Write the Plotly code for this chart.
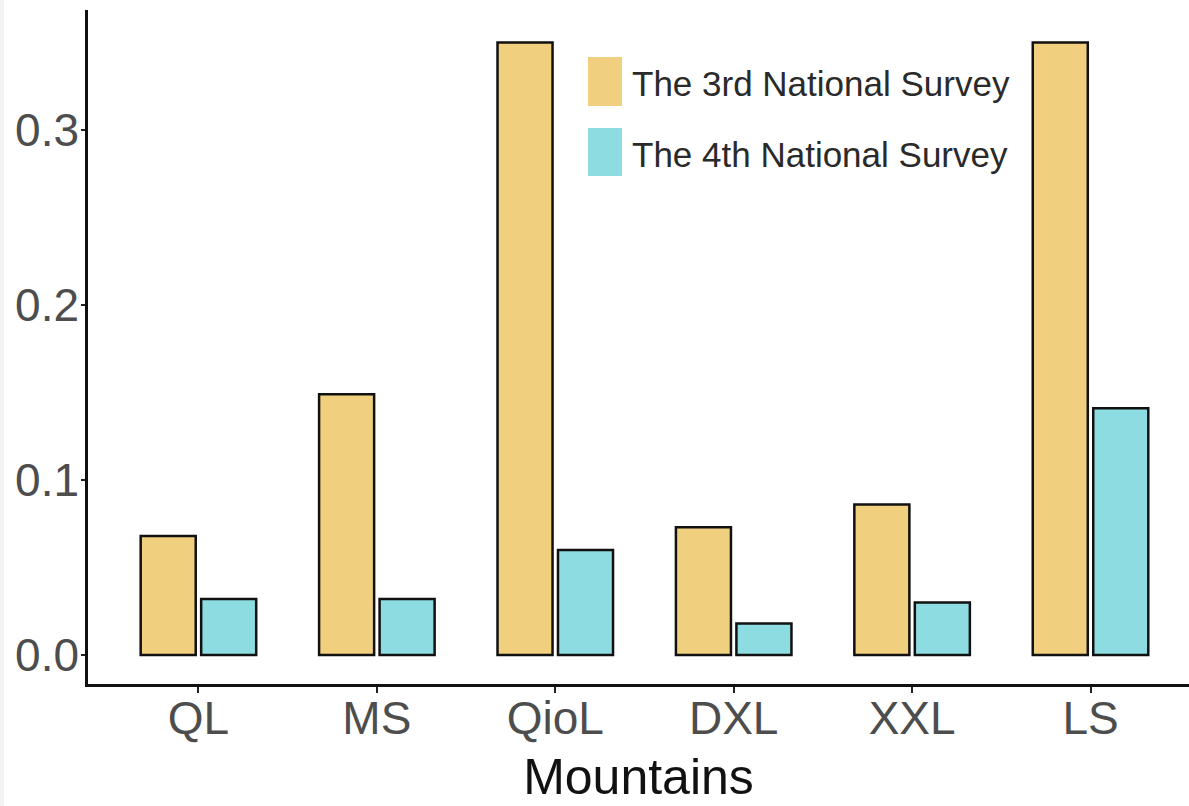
import plotly.graph_objects as go

mountains = ["QL", "MS", "QioL", "DXL", "XXL", "LS"]
survey_3rd = [0.068, 0.149, 0.350, 0.073, 0.086, 0.350]
survey_4th = [0.032, 0.032, 0.060, 0.018, 0.030, 0.141]
series_names = ["The 3rd National Survey", "The 4th National Survey"]
y_ticks = [0.0, 0.1, 0.2, 0.3]
y_tick_text = ["0.0", "0.1", "0.2", "0.3"]

SAND = "#F0D07F"
CYAN = "#8DDCE1"
FONT = "Liberation Sans, Arial, sans-serif"

W, H = 1189, 806
ML, MR, MT, MB = 88, 0, 10, 122
PW, PH = W - ML - MR, H - MT - MB


def px(x):
    return (x - ML) / PW


def py(y):
    return (H - MB - y) / PH


fig = go.Figure()
for name, vals, col in [(series_names[0], survey_3rd, SAND), (series_names[1], survey_4th, CYAN)]:
    fig.add_trace(go.Bar(
        x=mountains, y=vals, name=name,
        marker=dict(color=col, line=dict(color="#111111", width=2.5)),
        showlegend=False,
    ))

shapes = [
    # thin grey strip at the far left edge
    dict(type="rect", xref="paper", yref="paper", x0=px(0), x1=px(4), y0=py(806), y1=py(0),
         fillcolor="#F2F2F2", line=dict(width=0), layer="below"),
]
annotations = []
# legend keys drawn as large swatches with text
for i, (name, col) in enumerate(zip(series_names, [SAND, CYAN])):
    top, bot = (57, 106) if i == 0 else (128, 176)
    shapes.append(dict(type="rect", xref="paper", yref="paper",
                       x0=px(588), x1=px(622), y0=py(bot), y1=py(top),
                       fillcolor=col, line=dict(width=0)))
    annotations.append(dict(xref="paper", yref="paper", x=px(630), y=py((top + bot) / 2 + 2),
                            text=name, showarrow=False, xanchor="left", yanchor="middle",
                            font=dict(family=FONT, size=35, color="#2a2a2a")))

fig.update_layout(
    width=W, height=H,
    margin=dict(l=ML, r=MR, t=MT, b=MB),
    paper_bgcolor="white", plot_bgcolor="white",
    barmode="group", bargap=0.322, bargroupgap=0.09,
    shapes=shapes, annotations=annotations,
    xaxis=dict(
        range=[-0.619, 5.552], showgrid=False, zeroline=False,
        showline=True, linecolor="#111111", linewidth=2.5,
        ticks="outside", ticklen=6, tickwidth=2, tickcolor="#222222",
        ticklabelstandoff=-14,
        tickfont=dict(family=FONT, size=46, color="#4d4d4d"),
        title=dict(text="Mountains", font=dict(family=FONT, size=50, color="#111111"), standoff=17),
    ),
    yaxis=dict(
        range=[-0.0166, 0.3686], showgrid=False, zeroline=False,
        showline=True, linecolor="#111111", linewidth=2.5,
        tickvals=y_ticks, ticktext=y_tick_text,
        ticks="outside", ticklen=4, tickwidth=2, tickcolor="#222222",
        ticklabelstandoff=-7,
        tickfont=dict(family=FONT, size=46, color="#4d4d4d"),
    ),
)

fig.write_html("out.html")
